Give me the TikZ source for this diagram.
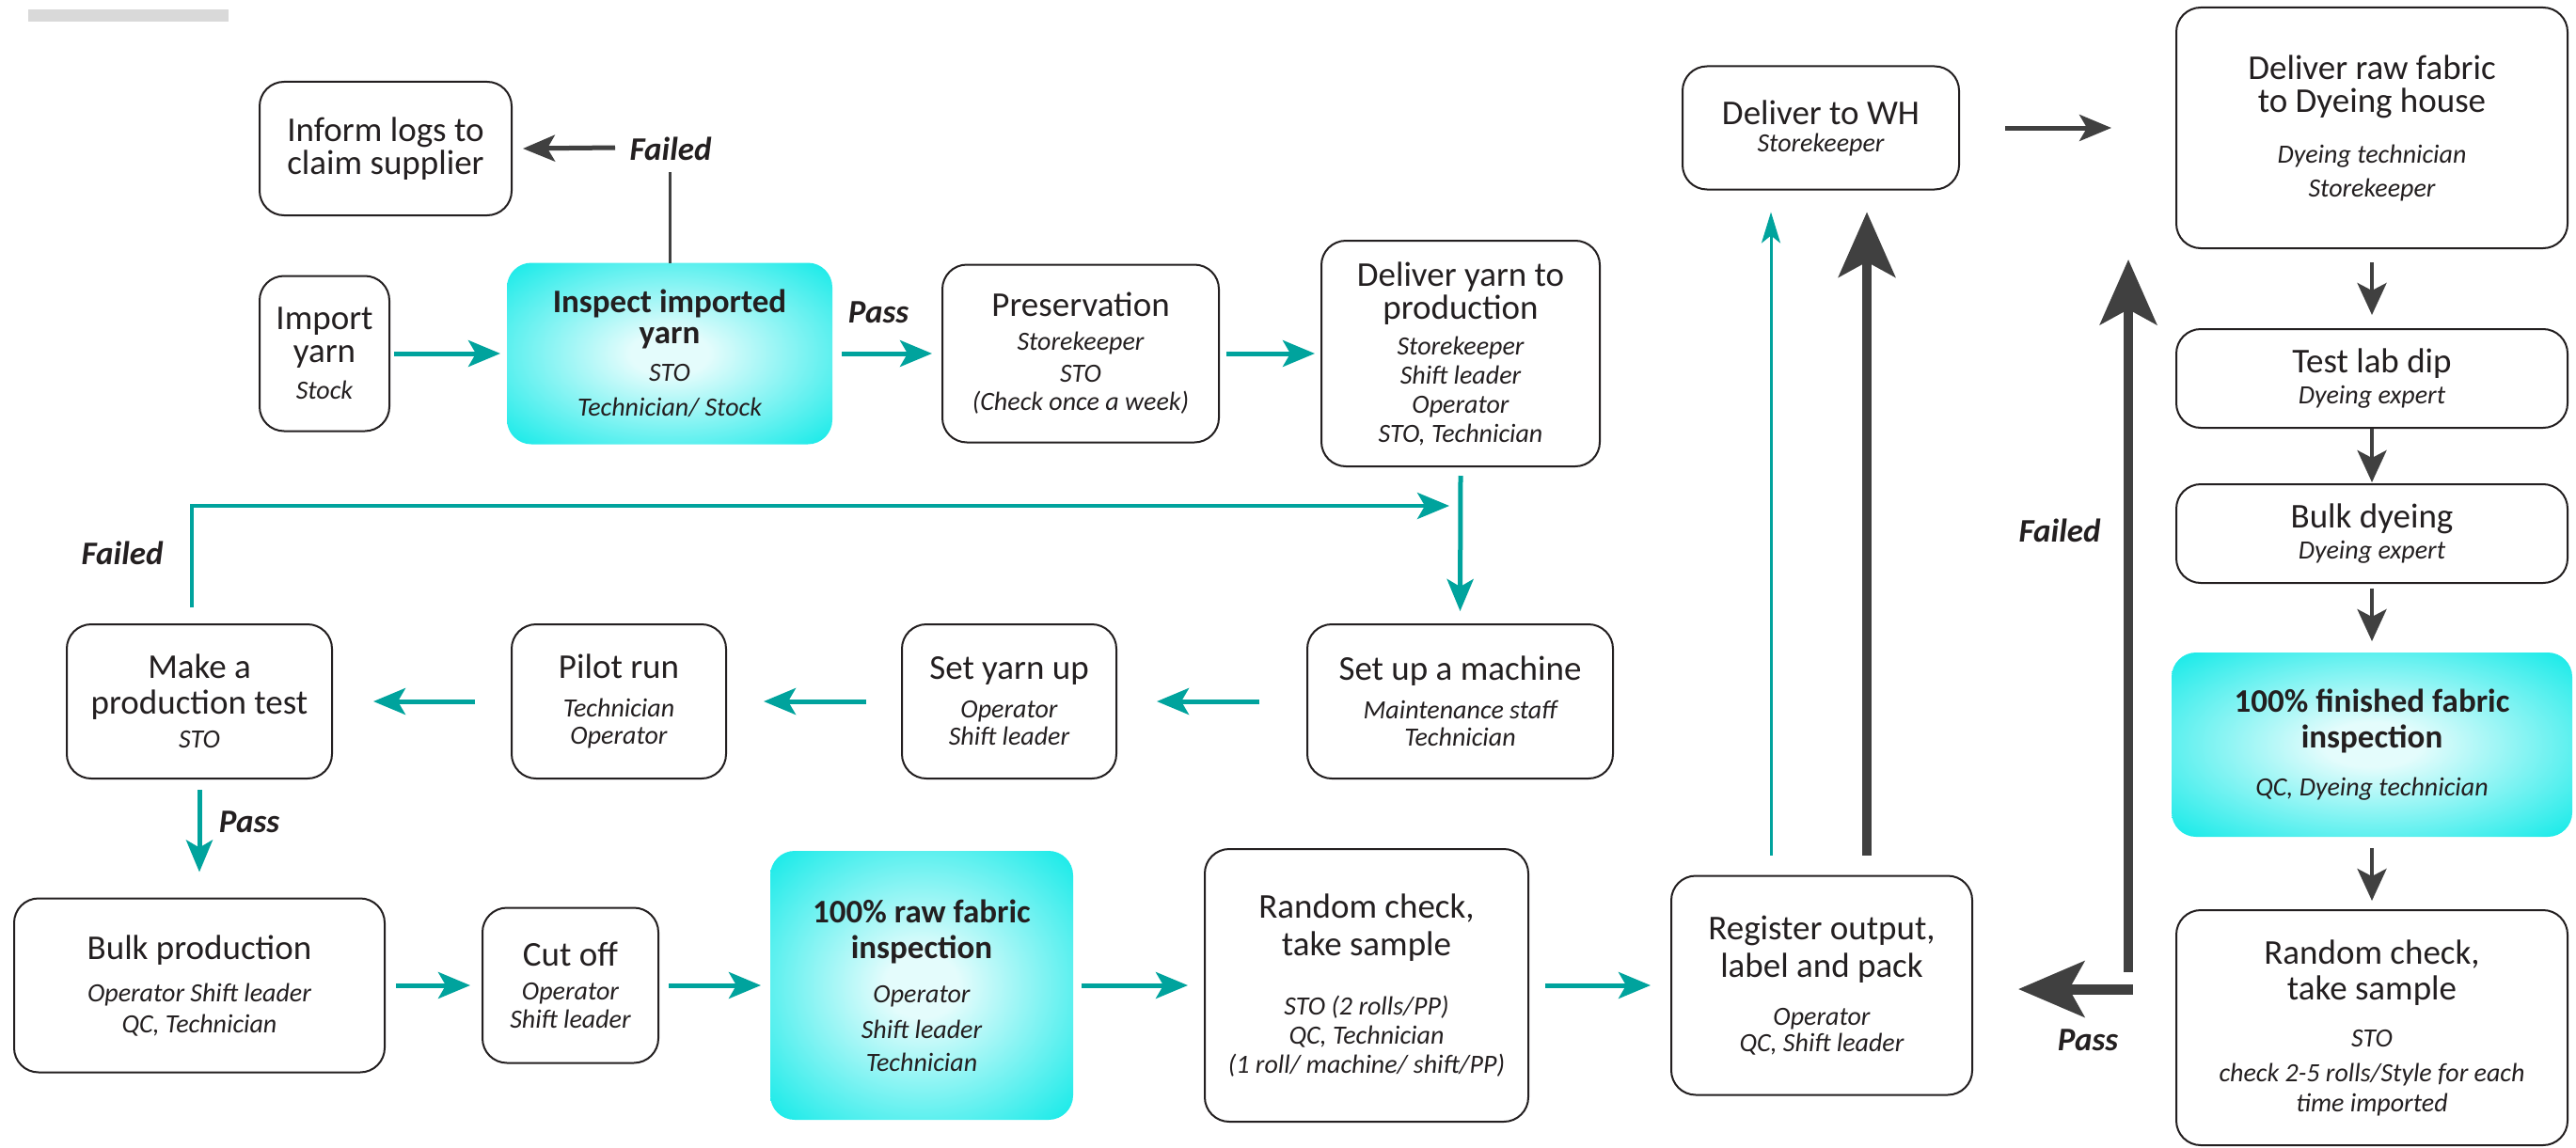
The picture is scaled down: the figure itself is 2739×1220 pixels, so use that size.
\documentclass[tikz,border=0pt]{standalone}
\usepackage{fontspec}
\setmainfont{Carlito}
\usetikzlibrary{arrows.meta}
\definecolor{teal1}{RGB}{0,163,157}
\definecolor{darkar}{RGB}{64,64,64}
\definecolor{cyanbox}{RGB}{0,232,230}
\definecolor{cglow}{RGB}{228,252,252}
\definecolor{ink}{RGB}{35,31,32}
\definecolor{barg}{RGB}{217,217,217}
\lineskiplimit=-100pt
\newcommand\Ttl{\fontsize{18.5pt}{15.5pt}\selectfont\upshape\mdseries\lineskiplimit=-100pt\relax}
\newcommand\Bld{\fontsize{17.5pt}{15.5pt}\selectfont\upshape\bfseries\lineskiplimit=-100pt\relax}
\newcommand\Rol{\fontsize{14pt}{15.5pt}\selectfont\itshape\mdseries\lineskiplimit=-100pt\relax}
\newcommand\Lbl{\fontsize{17.5pt}{18pt}\selectfont\bfseries\itshape}
\pgfdeclareradialshading{glow}{\pgfpoint{0bp}{0bp}}{color(0bp)=(cglow); color(6bp)=(cglow); color(38bp)=(cyanbox); color(50bp)=(cyanbox)}
\tikzset{
  bx/.style={line width=1pt, rounded corners=13pt, inner sep=0pt, outer sep=0pt, align=center, text=ink, font=\Rol},
  box/.style={bx, draw=ink, fill=white},
  cbox/.style={bx, draw=none, shading=glow},
  sz/.style 2 args={minimum width=#1*0.5pt, minimum height=#2*0.5pt},
  lab/.style={font=\Lbl, text=ink, inner sep=0pt},
  tarr/.style={draw=teal1, line width=2.5pt, -{Stealth[length=17pt,width=14pt,inset=4pt]}},
  darr/.style={draw=darkar, line width=2.5pt, -{Stealth[length=17pt,width=14pt,inset=4pt]}},
  sdarr/.style={draw=darkar, line width=2pt, -{Stealth[length=17pt,width=15.5pt,inset=4pt]}},
  bigarr/.style={draw=darkar, line width=5.25pt, -{Stealth[length=34.5pt,width=30pt,inset=8pt]}},
}
\begin{document}
\begin{tikzpicture}[x=0.5pt, y=-0.5pt]
\useasboundingbox (0,0) rectangle (2739,1220);
\fill[white] (0,0) rectangle (2739,1220);
\fill[barg] (30,10) rectangle (243,23);

% top row
\node[box, sz={268}{142}] (inform) at (410,158) {\Ttl Inform logs to\\[2pt]\Ttl claim supplier};
\node[box, sz={138}{165}] (import) at (345,376) {\Ttl Import\\[2pt]\Ttl yarn\\[4pt]\Rol Stock};
\node[cbox, sz={346}{193}] (inspect) at (712,376) {\Bld Inspect imported\\[1pt]\Bld yarn\\[4.5pt]\Rol STO\\[3pt]\Rol Technician/ Stock};
\node[box, sz={294}{189}] (preserv) at (1149,376) {\Ttl Preservation\\[2.5pt]\Rol Storekeeper\\[1.5pt]\Rol STO\\[-0.5pt]\Rol (Check once a week)};
\node[box, sz={296}{240}] (delyarn) at (1553,376) {\Ttl Deliver yarn to\\[2pt]\Ttl production\\[3.5pt]\Rol Storekeeper\\\Rol Shift leader\\\Rol Operator\\\Rol STO, Technician};
\node[box, sz={294}{131}] (delwh) at (1936,136) {\Ttl Deliver to WH\\[-1pt]\Rol Storekeeper};
\node[box, sz={416}{256}] (delraw) at (2522,136) {\Ttl Deliver raw fabric\\[2pt]\Ttl to Dyeing house\\[11.5pt]\Rol Dyeing technician\\[2.5pt]\Rol Storekeeper};
\node[box, sz={416}{105}] (labdip) at (2522,402.5) {\Ttl Test lab dip\\[1pt]\Rol Dyeing expert};
\node[box, sz={416}{105}] (bulkdye) at (2522,567.5) {\Ttl Bulk dyeing\\[1pt]\Rol Dyeing expert};
\node[cbox, sz={426}{196}] (finished) at (2522,792) {\Bld 100\% finished fabric\\[3.5pt]\Bld inspection\\[10pt]\Rol QC, Dyeing technician};
\node[box, sz={416}{250}] (randR) at (2522,1093) {\Ttl Random check,\\[3.5pt]\Ttl take sample\\[9.5pt]\Rol STO\\[3pt]\Rol check 2-5 rolls/Style for each\\[0.5pt]\Rol time imported};

% middle row
\node[box, sz={282}{164}] (maketest) at (212,746) {\Ttl Make a\\[3.5pt]\Ttl production test\\[2.5pt]\Rol STO};
\node[box, sz={228}{164}] (pilot) at (658,746) {\Ttl Pilot run\\[5pt]\Rol Technician\\[-1pt]\Rol Operator};
\node[box, sz={228}{164}] (setyarn) at (1073,746) {\Ttl Set yarn up\\[5pt]\Rol Operator\\[-1pt]\Rol Shift leader};
\node[box, sz={325}{164}] (setmachine) at (1552.5,746) {\Ttl Set up a machine\\[5pt]\Rol Maintenance staff\\[-1pt]\Rol Technician};

% bottom row
\node[box, sz={394}{185}] (bulkprod) at (212,1048) {\Ttl Bulk production\\[7pt]\Rol Operator Shift leader\\[1pt]\Rol QC, Technician};
\node[box, sz={187}{165}] (cutoff) at (606.5,1048) {\Ttl Cut off\\[2.5pt]\Rol Operator\\[-0.5pt]\Rol Shift leader};
\node[cbox, sz={322}{286}] (rawinsp) at (980,1048) {\Bld 100\% raw fabric\\[3.5pt]\Bld inspection\\[8pt]\Rol Operator\\[3.5pt]\Rol Shift leader\\[2pt]\Rol Technician};
\node[box, sz={344}{290}] (randM) at (1453,1048) {\Ttl Random check,\\[4.5pt]\Ttl take sample\\[16pt]\Rol STO (2 rolls/PP)\\\Rol QC, Technician\\\Rol (1 roll/ machine/ shift/PP)};
\node[box, sz={320}{233}] (register) at (1937,1048) {\Ttl Register output,\\[4.5pt]\Ttl label and pack\\[10pt]\Rol Operator\\[-1.5pt]\Rol QC, Shift leader};

% labels
\node[lab] (f1) at (713,158) {Failed};
\node[lab] (p1) at (934,332) {Pass};
\node[lab] (f2) at (130,588) {Failed};
\node[lab] (p2) at (265,874) {Pass};
\node[lab] (f3) at (2190,564) {Failed};
\node[lab] (p3) at (2220,1106) {Pass};

% top row connectors
\draw[tarr] ([xshift=2.5pt]import.east) -- ([xshift=-3.5pt]inspect.west);
\draw[tarr] ([xshift=5pt]inspect.east) -- ([xshift=-5.5pt]preserv.west);
\draw[tarr] ([xshift=4pt]preserv.east) -- ([xshift=-3.5pt]delyarn.west);
\draw[draw=darkar, line width=1.5pt] (inspect.north) -- ([yshift=48.5pt]inspect.north);
\coordinate (f1tail) at (654,157);
\draw[darr] (f1tail) -- ([xshift=6pt]inform.east);

% yarn to machine and middle row
\draw[tarr] ([yshift=-5pt]delyarn.south) -- ([yshift=7pt]setmachine.north);
\draw[tarr] ([xshift=-25.5pt]setmachine.west) -- ([xshift=21.5pt]setyarn.east);
\draw[tarr] ([xshift=-19pt]setyarn.west) -- ([xshift=20pt]pilot.east);
\draw[tarr] ([xshift=-19.5pt]pilot.west) -- ([xshift=22pt]maketest.east);
\draw[tarr] ([yshift=-6pt]maketest.south) -- ([yshift=14pt]bulkprod.north);
\coordinate (fbend) at (1541,538);
\draw[tarr, line width=2pt] ([xshift=-4pt,yshift=9pt]maketest.north) |- (fbend);

% bottom row connectors
\draw[tarr] ([xshift=6pt]bulkprod.east) -- ([xshift=-6.5pt]cutoff.west);
\draw[tarr] ([xshift=5.5pt]cutoff.east) -- ([xshift=-5pt]rawinsp.west);
\draw[tarr] ([xshift=4.5pt]rawinsp.east) -- ([xshift=-9pt]randM.west);
\draw[tarr] ([xshift=9pt]randM.east) -- ([xshift=-11pt]register.west);

% register to warehouse
\coordinate (t1) at ([xshift=-27pt,yshift=11pt]register.north);
\draw[draw=teal1, line width=1.5pt, -{Stealth[length=16.5pt,width=10pt,inset=4pt]}, shorten >=12pt] (t1) -- (t1 |- delwh.south);
\coordinate (d1) at ([xshift=24pt,yshift=11pt]register.north);
\draw[bigarr, shorten >=12pt] (d1) -- (d1 |- delwh.south);
\draw[darr] ([xshift=24.5pt]delwh.east) -- ([xshift=-34.5pt]delraw.west);

% dyeing column
\draw[sdarr] ([yshift=-7.5pt]delraw.south) -- ([yshift=7.5pt]labdip.north);
\draw[sdarr] ([yshift=-0.5pt]labdip.south) -- ([yshift=1pt]bulkdye.north);
\draw[sdarr] ([yshift=-3pt]bulkdye.south) -- ([yshift=6pt]finished.north);
\draw[sdarr] ([yshift=-6pt]finished.south) -- ([yshift=5pt]randR.north);

% pass / failed from final check
\coordinate (br) at (2268,1052);
\draw[draw=darkar, line width=5.5pt, -{Stealth[length=35pt,width=29.5pt,inset=8pt]}, shorten >=24.5pt] (br) -- (br -| register.east);
\coordinate (fb) at (2263,1034);
\coordinate (ftip) at (2263,276);
\draw[bigarr] (fb) -- (ftip);
\end{tikzpicture}
\end{document}
